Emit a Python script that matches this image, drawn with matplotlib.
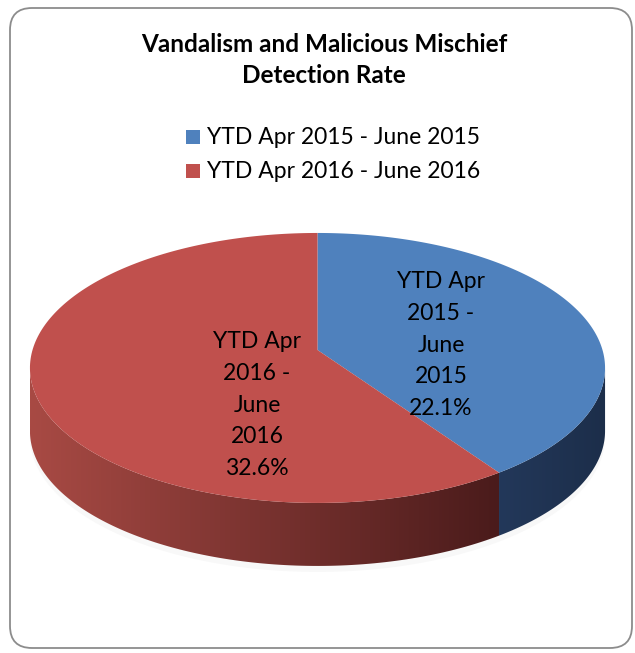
import numpy as np
import matplotlib.pyplot as plt
from matplotlib.colors import to_rgb
from matplotlib.patches import Polygon, Rectangle, FancyBboxPatch

# data
labels = ['YTD Apr 2015 - June 2015', 'YTD Apr 2016 - June 2016']
values = [22.1, 32.6]
slice_labels = ['YTD Apr\n2015 -\nJune\n2015\n22.1%', 'YTD Apr\n2016 -\nJune\n2016\n32.6%']
title = 'Vandalism and Malicious Mischief\nDetection Rate'

# colours
top_colors = ['#4f81bd', '#c0504d']
side_colors = [('#23385a', '#1c2e4a'), ('#a84a44', '#4a1b1b')]

plt.rcParams['font.family'] = ['Lato', 'DejaVu Sans']

W, H = 635, 653
fig = plt.figure(figsize=(W / 100, H / 100), dpi=100)
ax = fig.add_axes([0, 0, 1, 1])
ax.set_xlim(0, W)
ax.set_ylim(H, 0)
ax.axis('off')

# rounded frame
ax.add_patch(FancyBboxPatch((10, 8), 622, 640, boxstyle='round,pad=0,rounding_size=22',
                            fc='white', ec='#8c8c8c', lw=1.3, zorder=0))

# pie geometry (perspective disk)
cx, cy = 317.5, 350
sx, sy, k = 285, 132.6, 0.133
depth = 63


def proj(theta):
    u, v = np.sin(theta), np.cos(theta)
    w = 1 + k * v
    return cx + sx * u / w, cy - sy * v / w


fracs = np.array(values) / sum(values)
bounds = np.concatenate([[0], np.cumsum(fracs)]) * 2 * np.pi
th_r = np.arccos(-k)
th_l = 2 * np.pi - th_r

# faint shadow
sh_t = np.linspace(0, 2 * np.pi, 200)
shx, shy = proj(sh_t)
ax.add_patch(Polygon(np.c_[shx, shy + depth + 6], closed=True, fc='#f8f8f8', ec='none', zorder=1))

# side walls (gradient clipped to each wall)
for i in range(len(values)):
    a0, a1 = max(bounds[i], th_r), min(bounds[i + 1], th_l)
    if a1 <= a0:
        continue
    t = np.linspace(a0, a1, 120)
    x, y = proj(t)
    pts = np.r_[np.c_[x, y], np.c_[x[::-1], y[::-1] + depth]]
    poly = Polygon(pts, closed=True, fc='none', ec='none', zorder=2)
    ax.add_patch(poly)
    c0 = np.array(to_rgb(side_colors[i][0]))
    c1 = np.array(to_rgb(side_colors[i][1]))
    grad = np.linspace(0, 1, 256)[None, :, None]
    img = c0 + (c1 - c0) * grad
    im = ax.imshow(np.repeat(img, 2, axis=0), extent=(x.min(), x.max(), y.max() + depth, y.min()),
                   aspect='auto', zorder=2, interpolation='bilinear')
    im.set_clip_path(poly)

# top faces
for i in range(len(values)):
    t = np.linspace(bounds[i], bounds[i + 1], 200)
    x, y = proj(t)
    pts = np.r_[[[cx, cy]], np.c_[x, y]]
    ax.add_patch(Polygon(pts, closed=True, fc=top_colors[i], ec='none', zorder=3))

# slice labels
label_pos = [(441, 345), (257, 405)]
for (lx, ly), txt in zip(label_pos, slice_labels):
    ax.text(lx, ly, txt, ha='center', va='center', fontsize=16.5, linespacing=1.62,
            color='black', zorder=4)

# title
ax.text(324, 60, title, ha='center', va='center', fontsize=17.5, fontweight='bold', linespacing=1.4)

# legend
for j, (lab, col) in enumerate(zip(labels, top_colors)):
    ly = 137 + j * 34
    ax.add_patch(Rectangle((186, ly - 7), 14, 14, fc=col, ec='none'))
    ax.text(207, ly, lab, ha='left', va='center', fontsize=16.5)

fig.savefig('out.png', dpi=100, facecolor='white')
